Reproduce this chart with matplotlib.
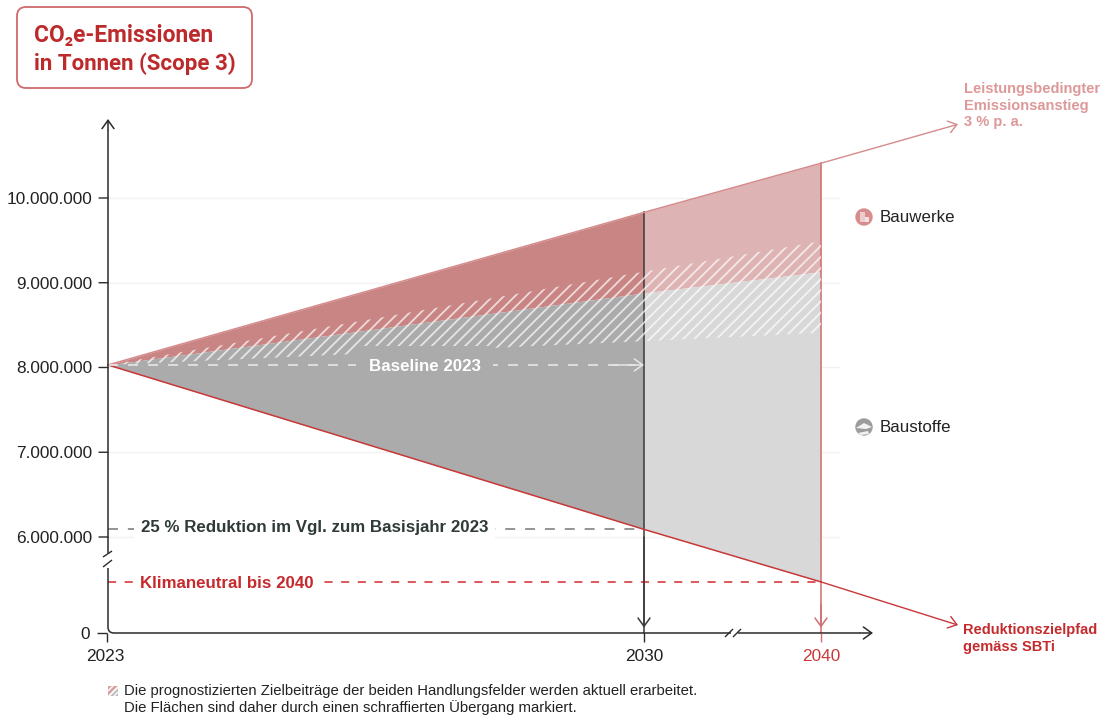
import numpy as np
import matplotlib
matplotlib.use('Agg')
import matplotlib.pyplot as plt
from matplotlib.patches import FancyBboxPatch, Circle, Rectangle, Polygon
from matplotlib.path import Path
from matplotlib.patches import PathPatch
from matplotlib.transforms import Affine2D

plt.rcParams['font.family'] = ['Liberation Sans', 'DejaVu Sans']
plt.rcParams['hatch.linewidth'] = 1.3

# values (tonnes CO2e)
years = [2023, 2030, 2040]
upper_path = [8030000, 9830000, 10410000]
hatch_top = [8030000, 9130000, 9490000]
hatch_mid = [8030000, 8880000, 9130000]
hatch_bottom = [8030000, 8310000, 8410000]
lower_path = [8030000, 6090000, 5470000]
baseline = 8030000
reduction_25 = 6090000
neutral_2040 = 5470000
arrow_year = 2044.86
upper_arrow_end = 10870000
lower_arrow_end = 4960000
ytick_values = [6000000, 7000000, 8000000, 9000000, 10000000]
ytick_labels = ['6.000.000', '7.000.000', '8.000.000', '9.000.000', '10.000.000']

RED = '#c42b2d'
RED_SOFT = '#d58a8b'
DARK = '#2b2b2b'

# broken axes: piecewise scales, so that values land where the chart has them
x_vals = [2000, 2023, 2030, 2040, 2050]
x_pix = [0, 108, 644, 821, 1103]
y_vals = [-1000000, 0, 4900000, 6000000, 12336000]
y_pix = [0, 85, 87.8, 181, 718]


def fx(v):
    return np.interp(v, x_vals, x_pix)


def fx_inv(v):
    return np.interp(v, x_pix, x_vals)


def fy(v):
    return np.interp(v, y_vals, y_pix)


def fy_inv(v):
    return np.interp(v, y_pix, y_vals)


fig = plt.figure(figsize=(11.03, 7.18), dpi=100)
ax = fig.add_axes([0, 0, 1, 1])
ax.set_xscale('function', functions=(fx, fx_inv))
ax.set_yscale('function', functions=(fy, fy_inv))
ax.set_xlim(2000, 2050)
ax.set_ylim(-1000000, 12336000)
ax.axis('off')

# pixel coordinates, top-left origin, for the furniture around the plot
px = Affine2D().scale(1, -1).translate(0, 718)


def seg(xs, ys, **kw):
    ax.plot(xs, ys, transform=px, solid_capstyle='butt', **kw)


def arrow(start, end, color, lw=1.0, transform=None, zorder=6):
    ax.annotate('', xy=end, xytext=start,
                xycoords=transform or 'data', textcoords=transform or 'data',
                arrowprops=dict(arrowstyle='->,head_length=0.5,head_width=0.36',
                                mutation_scale=12, color=color, lw=lw,
                                shrinkA=0, shrinkB=0),
                zorder=zorder)


def label(x, y, s, **kw):
    kw.setdefault('va', 'center')
    ax.text(x, y + 1.3, s, transform=px, **kw)


# gridlines
for v in ytick_values:
    ax.plot([2023, 2040.64], [v, v], color='#f2f2f2', lw=1, zorder=1)

# areas
ax.fill_between(years[:2], hatch_mid[:2], upper_path[:2], color='#c88584', lw=0, zorder=2)
ax.fill_between(years[:2], lower_path[:2], hatch_mid[:2], color='#ababab', lw=0, zorder=2)
ax.fill_between(years[1:], hatch_mid[1:], upper_path[1:], color='#deb3b3', lw=0, zorder=2)
ax.fill_between(years[1:], lower_path[1:], hatch_mid[1:], color='#d8d8d8', lw=0, zorder=2)

# year lines sit under the hatching
ax.plot([2030, 2030], [upper_path[1], 0], color='#3a3a3a', lw=1.1, zorder=3)
ax.plot([2040, 2040], [upper_path[2], 0], color='#cf6f70', lw=1.1, zorder=3)
ax.fill_between(years, hatch_bottom, hatch_top, facecolor='none',
                edgecolor=(1, 1, 1, 0.7), hatch='///', lw=0, zorder=4)

# pathway lines
ax.plot(years, upper_path, color=RED_SOFT, lw=1.1, zorder=5)
ax.plot(years, lower_path, color='#c8383a', lw=1.1, zorder=5)
arrow((2040, upper_path[2]), (arrow_year, upper_arrow_end), RED_SOFT)
arrow((2040, lower_path[2]), (arrow_year, lower_arrow_end), '#c8383a')

# arrow heads of the year lines
arrow((2030, 6000000), (2030, 4930000), '#3a3a3a', lw=1.1)
arrow((2040, 5200000), (2040, 4930000), '#cf6f70', lw=1.1)

# reference lines
ax.plot([2023, 2030], [reduction_25, reduction_25], color='#777777', lw=1.1,
        dashes=(6.5, 6.5), zorder=5)
ax.plot([2023, 2040], [neutral_2040, neutral_2040], color='#d3282c', lw=1.1,
        dashes=(5.3, 5.6), zorder=5)
ax.plot([2023, 2029.9], [baseline, baseline], color='#e6e6e6', lw=1.2,
        dashes=(6, 6), zorder=5)
arrow((2029.6, baseline), (2030, baseline), '#e6e6e6', lw=1.1)

label(141, 526, '25 % Reduktion im Vgl. zum Basisjahr 2023', color='#2f3a39',
      fontsize=12.2, fontweight='bold', zorder=7,
      bbox=dict(facecolor='white', edgecolor='none', pad=5))
label(140, 582, 'Klimaneutral bis 2040', color='#c62a2d', fontsize=12.2,
      fontweight='bold', zorder=7, bbox=dict(facecolor='white', edgecolor='none', pad=5))
label(369, 365, 'Baseline 2023', color='white', fontsize=12.2, fontweight='bold',
      zorder=7, bbox=dict(facecolor='#ababab', edgecolor='none', pad=9))

# y axis with break and rounded corner
axis_path = Path([(108, 568), (108, 627), (108, 633), (114, 633), (731, 633)],
                 [Path.MOVETO, Path.LINETO, Path.CURVE3, Path.CURVE3, Path.LINETO])
ax.add_patch(PathPatch(axis_path, transform=px, fill=False, edgecolor=DARK, lw=1.1, zorder=6))
seg([108, 108], [553, 130], color=DARK, lw=1.1, zorder=6)
arrow((108, 130), (108, 119), DARK, lw=1.1, transform=px)
seg([103, 112], [557, 551], color=DARK, lw=1, zorder=6)
seg([103, 112], [567, 560], color=DARK, lw=1, zorder=6)

# x axis break and arrow
seg([725, 733], [637, 629], color=DARK, lw=1, zorder=6)
seg([733, 741], [637, 629], color=DARK, lw=1, zorder=6)
seg([738, 860], [633, 633], color=DARK, lw=1.1, zorder=6)
arrow((860, 633), (873, 633), DARK, lw=1.1, transform=px)

# ticks
for v, t in zip(ytick_values, ytick_labels):
    ax.annotate('', xy=(2023, v), xytext=(-9, 0), textcoords='offset pixels',
                arrowprops=dict(arrowstyle='-', color=DARK, lw=1, shrinkA=0, shrinkB=0))
    ax.annotate(t, xy=(2023, v), xytext=(-16, -1.3), textcoords='offset pixels',
                ha='right', va='center', fontsize=12.4, color='#222222')
seg([97, 107], [633, 633], color=DARK, lw=1, zorder=6)
seg([107, 107], [633, 642], color=DARK, lw=1, zorder=6)
label(90, 633, '0', ha='right', fontsize=12.4, color='#222222')
seg([644, 644], [633, 642], color=DARK, lw=1, zorder=6)
seg([821, 821], [633, 642], color='#cf6f70', lw=1, zorder=6)
label(105, 655, '2023', ha='center', fontsize=12.4, color='#222222')
label(644, 655, '2030', ha='center', fontsize=12.4, color='#222222')
label(821, 655, '2040', ha='center', fontsize=12.4, color='#c9393b')

# title box
ax.add_patch(FancyBboxPatch((24, 14), 221, 67, boxstyle='round,pad=7,rounding_size=9',
                            transform=px, facecolor='white', edgecolor='#cf6a6c', lw=1.3))
label(34, 34, 'CO₂e-Emissionen', color='#bd2a2c', fontsize=16.4, fontweight='bold',
      family=['Roboto', 'DejaVu Sans'])
label(34, 62, 'in Tonnen (Scope 3)', color='#bd2a2c', fontsize=16, fontweight='bold',
      family=['Roboto', 'DejaVu Sans'])

# right-hand notes
for i, s in enumerate(['Leistungsbedingter', 'Emissionsanstieg', '3 % p. a.']):
    label(964, 88 + i * 16.5, s, color='#dd9899', fontsize=10.55, fontweight='bold')
for i, s in enumerate(['Reduktionszielpfad', 'gemäss SBTi']):
    label(963, 629 + i * 17, s, color='#c42b2d', fontsize=10.55, fontweight='bold')

# legend icons
ax.add_patch(Circle((864, 217), 8.7, transform=px, facecolor='#d98c8d', edgecolor='none', zorder=6))
ax.add_patch(Rectangle((860, 212), 5, 10, transform=px, facecolor='#eecccc', edgecolor='none', zorder=7))
ax.add_patch(Rectangle((865, 217), 4, 5, transform=px, facecolor='#f6e2e2', edgecolor='none', zorder=7))
ax.add_patch(Circle((864, 427), 8.7, transform=px, facecolor='#9c9c9c', edgecolor='none', zorder=6))
ax.add_patch(Polygon([(856, 428), (864, 423), (872, 427), (866, 429)], transform=px,
                     facecolor='#f2f2f2', edgecolor='none', zorder=7))
ax.add_patch(Polygon([(858, 433), (868, 431), (869, 434), (861, 435)], transform=px,
                     facecolor='#f2f2f2', edgecolor='none', zorder=7))
label(880, 216, 'Bauwerke', fontsize=12.2, color='#222222')
label(880, 426, 'Baustoffe', fontsize=12.2, color='#222222')

# footnote with small hatch swatch
ax.add_patch(Polygon([(108, 686), (118, 686), (108, 696)], transform=px, facecolor='#d9a0a0',
                     edgecolor='none', zorder=6))
ax.add_patch(Polygon([(118, 686), (118, 696), (108, 696)], transform=px, facecolor='#bdbdbd',
                     edgecolor='none', zorder=6))
seg([109, 118], [696, 687], color='white', lw=1.2, zorder=7)
seg([108, 113], [691, 686], color='white', lw=1.0, zorder=7)
seg([114, 118], [696, 692], color='white', lw=1.0, zorder=7)
label(124, 690, 'Die prognostizierten Zielbeiträge der beiden Handlungsfelder werden aktuell erarbeitet.',
      fontsize=10.7, color='#222222')
label(124, 706, 'Die Flächen sind daher durch einen schraffierten Übergang markiert.',
      fontsize=10.7, color='#222222')

plt.savefig('out.png', dpi=100)
